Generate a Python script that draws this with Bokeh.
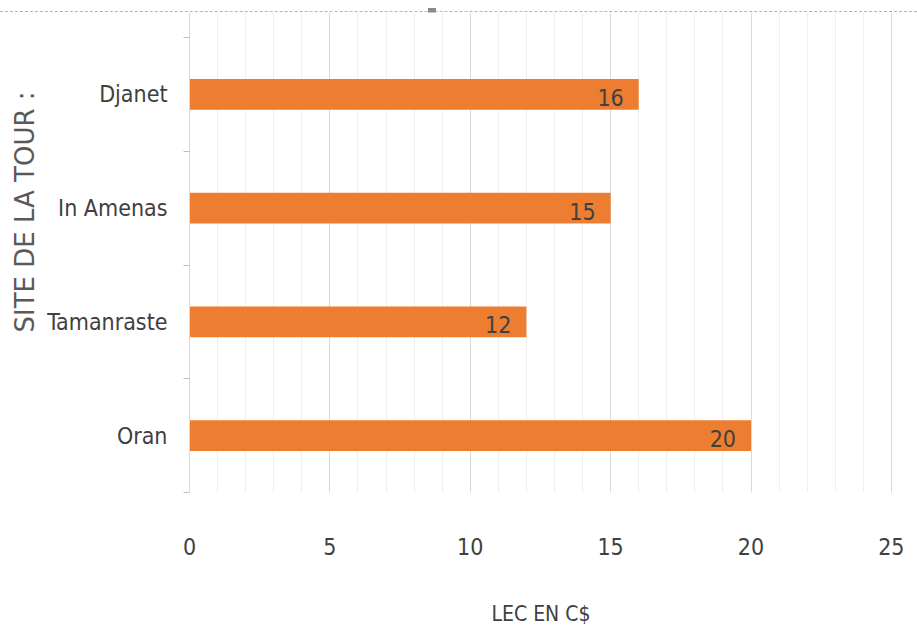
from bokeh.plotting import figure
from bokeh.models import (Range1d, FixedTicker, SingleIntervalTicker, Title,
                          Div, ColumnDataSource)
from bokeh.layouts import column
from bokeh.core.properties import value
from bokeh.embed import file_html
from bokeh.resources import INLINE

# Sites (bottom to top) and their cost
sites = ["Oran", "Tamanraste", "In Amenas", "Djanet"]
costs = [20, 12, 15, 16]
x_ticks = [0, 5, 10, 15, 20, 25]

NARROW = "'DejaVu Sans Condensed', 'Liberation Sans Narrow', Roboto, sans-serif"
ORANGE = "#ED7D31"

pos = [i + 0.5 for i in range(len(sites))]
src = ColumnDataSource(dict(y=pos, cost=costs, label=[str(c) for c in costs]))

p = figure(width=917, height=623, output_backend="svg", toolbar_location=None,
           x_range=Range1d(0, 25.04), y_range=Range1d(0, 4.22),
           min_border_left=189, min_border_right=25, min_border_top=0,
           min_border_bottom=143)
p.outline_line_color = None
p.background_fill_color = "white"
p.border_fill_color = "white"

p.hbar(y="y", right="cost", left=0, height=0.27, source=src,
       fill_color=ORANGE, line_color=None)

p.text(x="cost", y="y", text="label", source=src, text_align="right",
       text_baseline="middle", x_offset=-15, y_offset=3,
       text_font=value(NARROW), text_font_size="23px", text_color="#404040")

# x axis: labels only
xa = p.xaxis[0]
xa.ticker = FixedTicker(ticks=x_ticks)
xa.axis_line_color = None
xa.major_tick_line_color = None
xa.minor_tick_line_color = None
xa.major_label_standoff = 39
xa.major_label_text_font = NARROW
xa.major_label_text_font_size = "23px"
xa.major_label_text_color = "#404040"
xa.axis_label = "LEC EN C$"
xa.axis_label_text_font = NARROW
xa.axis_label_text_font_size = "21px"
xa.axis_label_text_font_style = "normal"
xa.axis_label_text_color = "#404040"
xa.axis_label_standoff = 44

# y axis: category names centred in bands, ticks on band boundaries
ya = p.yaxis[0]
ya.ticker = FixedTicker(ticks=pos, minor_ticks=list(range(len(sites) + 1)))
ya.major_label_overrides = {v: s for v, s in zip(pos, sites)}
ya.axis_line_color = "#d9d9d9"
ya.major_tick_line_color = None
ya.major_tick_out = 0
ya.major_tick_in = 0
ya.minor_tick_line_color = "#bfbfbf"
ya.minor_tick_out = 6
ya.minor_tick_in = 0
ya.major_label_standoff = 16
ya.major_label_text_font = NARROW
ya.major_label_text_font_size = "23px"
ya.major_label_text_color = "#404040"

p.xgrid.ticker = SingleIntervalTicker(interval=5, num_minor_ticks=5)
p.xgrid.grid_line_color = "#d9d9d9"
p.xgrid.minor_grid_line_color = "#efefef"
p.ygrid.grid_line_color = None

# vertical axis title, starting part-way up the frame
p.add_layout(Title(text="SITE DE LA TOUR :", align="left", offset=160,
                   text_font="DejaVu Sans", text_font_size="26px",
                   text_font_style="normal", text_color="#595959",
                   standoff=10), "left")

top = Div(text='<div style="position:absolute;left:428px;top:8px;width:8px;'
               'height:8px;background:#8a8a8a"></div>',
          width=917, height=12,
          styles={"border-bottom": "1px dashed #b5b5b5", "box-sizing": "border-box",
                  "position": "relative", "margin": "0"})

layout = column(top, p, spacing=0)
open("out.html", "w").write(file_html(layout, INLINE))
